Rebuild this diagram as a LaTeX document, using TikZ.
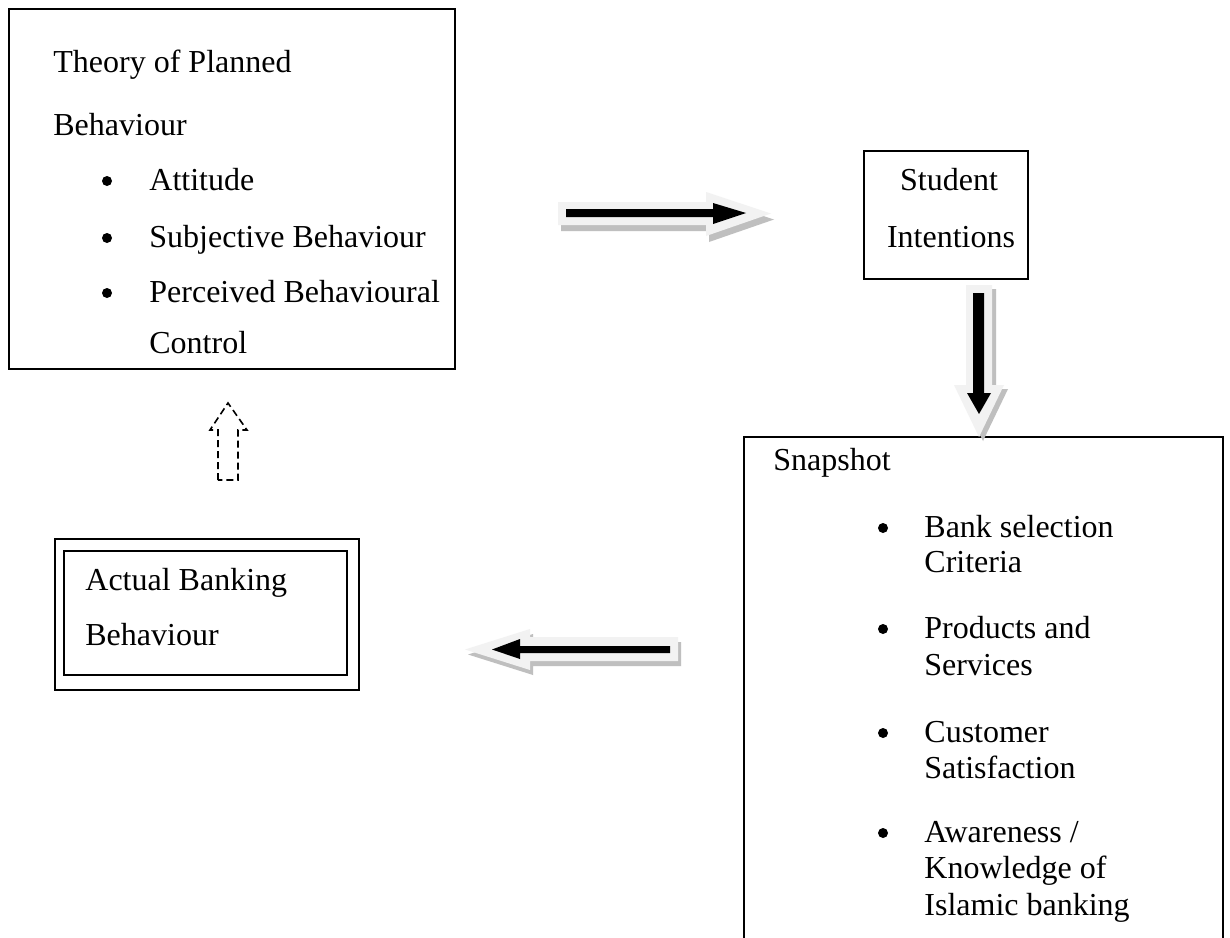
\documentclass[tikz,border=0pt]{standalone}
\usepackage{fontspec}
\setmainfont{Liberation Serif}
\begin{document}
\begin{tikzpicture}[x=0.5pt,y=-0.5pt,
  txt/.style={anchor=base west,inner sep=0pt,font=\fontsize{16}{19}\selectfont},
  ctxt/.style={anchor=base,inner sep=0pt,font=\fontsize{16}{19}\selectfont},
  boxline/.style={draw=black,line width=1pt},
  bul/.style={fill=black},
  lightarrow/.style={fill=black!5,draw=none},
  shadowarrow/.style={fill=black!25,draw=none},
  blackarrow/.style={fill=black,draw=none},
  dashedarrow/.style={draw=black,line width=0.8pt,dash pattern=on 3.5pt off 2pt}]
\useasboundingbox[fill=white] (0,0) rectangle (1230,937);

% ---------- boxes ----------
\node[boxline,anchor=north west,minimum width=223pt,minimum height=180pt,inner sep=0pt] (tpb) at (8,8) {};
\node[boxline,anchor=north west,minimum width=82pt,minimum height=64pt,inner sep=0pt] (stud) at (863,150) {};
\node[boxline,anchor=north west,minimum width=152pt,minimum height=75.5pt,inner sep=0pt] (actout) at (54,538) {};
\node[boxline,anchor=north west,minimum width=141.5pt,minimum height=62pt,inner sep=0pt] (actin) at (63,550) {};
\coordinate (snapbl) at (744,940);
\coordinate (snaptl) at (744,437);
\coordinate (snaptr) at (1223,437);
\coordinate (snapbr) at (1223,940);
\draw[line width=1pt] (snapbl) -- (snaptl) -- (snaptr) -- (snapbr);

% ---------- texts: Theory of Planned Behaviour ----------
\node[txt] (t1) at (53,72) {Theory of Planned};
\node[txt] (t2) at (53,135) {Behaviour};
\foreach \y in {190,247,302} \fill[bul] (107,\y-9) circle (2.5pt);
\node[txt] (t3) at (149,190) {Attitude};
\node[txt] (t4) at (149,247) {Subjective Behaviour};
\node[txt] (t5) at (149,302) {Perceived Behavioural};
\node[txt] (t6) at (149,353) {Control};

% ---------- Student Intentions ----------
\node[ctxt] (s1) at (949,190) {Student};
\node[ctxt] (s2) at (951,247) {Intentions};

% ---------- Actual Banking Behaviour ----------
\node[txt] (a1) at (85,590) {Actual Banking};
\node[txt] (a2) at (85,645) {Behaviour};

% ---------- Snapshot ----------
\node[txt] (n0) at (773,470) {Snapshot};
\foreach \y in {537,638,742,842} \fill[bul] (883,\y-9) circle (2.5pt);
\node[txt] (n1) at (924,537) {Bank selection};
\node[txt] (n2) at (924,572) {Criteria};
\node[txt] (n3) at (924,638) {Products and};
\node[txt] (n4) at (924,675) {Services};
\node[txt] (n5) at (924,742) {Customer};
\node[txt] (n6) at (924,778) {Satisfaction};
\node[txt] (n7) at (924,842) {Awareness /};
\node[txt] (n8) at (924,878) {Knowledge of};
\node[txt] (n9) at (924,915) {Islamic banking};

% ---------- right block arrow (TPB -> Student) ----------
\begin{scope}[shift={(3,6)}]
  \fill[shadowarrow] (558,202) -- (706,202) -- (706,192) -- (771,213.5) -- (706,236) -- (706,225) -- (558,225) -- cycle;
\end{scope}
\fill[lightarrow] (558,202) -- (706,202) -- (706,192) -- (771,213.5) -- (706,236) -- (706,225) -- (558,225) -- cycle;
\fill[blackarrow] (566,209) -- (713,209) -- (713,203) -- (746,213) -- (713,224) -- (713,217) -- (566,217) -- cycle;

% ---------- down block arrow (Student -> Snapshot) ----------
\begin{scope}[shift={(4,4)}]
  \fill[shadowarrow] (966,285) -- (992,285) -- (992,385) -- (1004,385) -- (979,437) -- (954,385) -- (966,385) -- cycle;
\end{scope}
\fill[lightarrow] (966,285) -- (992,285) -- (992,385) -- (1004,385) -- (979,437) -- (954,385) -- (966,385) -- cycle;
\fill[blackarrow] (973,293) -- (984,293) -- (984,393) -- (991,393) -- (979,414) -- (967,393) -- (973,393) -- cycle;

% ---------- left block arrow (Snapshot -> Actual) ----------
\begin{scope}[shift={(3,5)}]
  \fill[shadowarrow] (678,637) -- (530,637) -- (530,629) -- (465,649.5) -- (530,670) -- (530,661) -- (678,661) -- cycle;
\end{scope}
\fill[lightarrow] (678,637) -- (530,637) -- (530,629) -- (465,649.5) -- (530,670) -- (530,661) -- (678,661) -- cycle;
\fill[blackarrow] (670,646) -- (520,646) -- (520,639) -- (492,649.5) -- (520,659) -- (520,653) -- (670,653) -- cycle;

% ---------- dashed up arrow (Actual -> TPB) ----------
\draw[dashedarrow] (218,480) -- (218,430) -- (210,430) -- (228,403) -- (247,430) -- (238,430) -- (238,480) -- cycle;
\end{tikzpicture}
\end{document}
